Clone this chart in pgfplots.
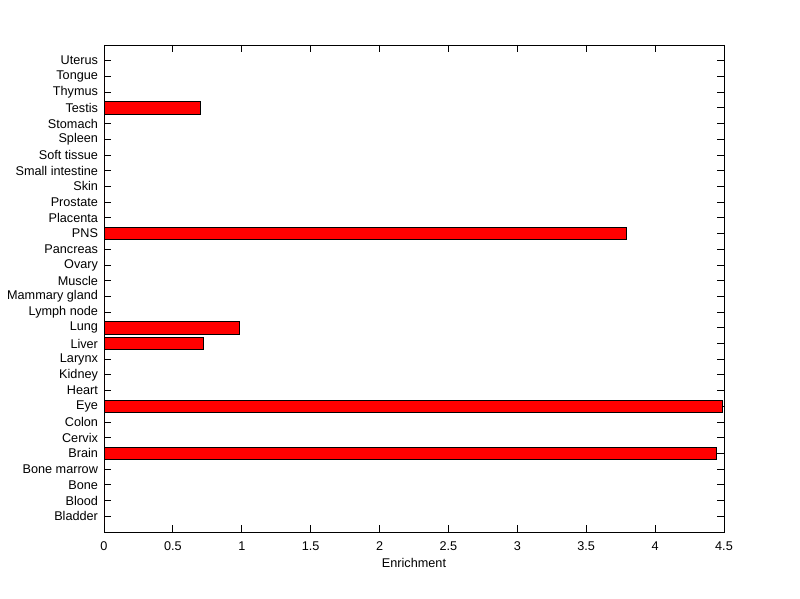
\documentclass[border=0pt]{standalone}
\usepackage{pgfplots}
\pgfplotsset{compat=1.18}
\usepackage{fontspec}
\setmainfont{Liberation Sans}
\begin{document}
\begin{tikzpicture}
\path[fill=white,use as bounding box] (0,0) rectangle (600pt,449.25pt);
\begin{axis}[
  at={(78pt,50.25pt)}, anchor=south west,
  scale only axis, width=465pt, height=365.25pt,
  xbar, bar width=0.8,
  xmin=0, xmax=4.5, ymin=0, ymax=31,
  xtick={0,0.5,1,1.5,2,2.5,3,3.5,4,4.5},
  xticklabels={0,0.5,1,1.5,2,2.5,3,3.5,4,4.5},
  ytick={1,...,30},
  yticklabels={Bladder,Blood,Bone,Bone marrow,Brain,Cervix,Colon,Eye,Heart,Kidney,Larynx,Liver,Lung,Lymph node,Mammary gland,Muscle,Ovary,Pancreas,PNS,Placenta,Prostate,Skin,Small intestine,Soft tissue,Spleen,Stomach,Testis,Thymus,Tongue,Uterus},
  tick align=inside, major tick length=5pt,
  tick style={black, line width=0.6pt},
  axis line style={line width=0.6pt},
  tick label style={font=\fontsize{9.5}{10}\selectfont},
  /pgf/number format/assume math mode=true,
  xlabel={Enrichment}, xlabel style={font=\fontsize{9.5}{10}\selectfont, yshift=1.5pt},
  xticklabel style={yshift=-4pt},
  yticklabel style={xshift=-1pt},
]
\addplot[fill=red, draw=black, line width=0.75pt] coordinates {
(0,1) (0,2) (0,3) (0,4) (4.446,5) (0,6) (0,7) (4.49,8) (0,9) (0,10)
(0,11) (0.722,12) (0.983,13) (0,14) (0,15) (0,16) (0,17) (0,18) (3.79,19) (0,20)
(0,21) (0,22) (0,23) (0,24) (0,25) (0,26) (0.70,27) (0,28) (0,29) (0,30)
};
\end{axis}
\end{tikzpicture}
\end{document}
